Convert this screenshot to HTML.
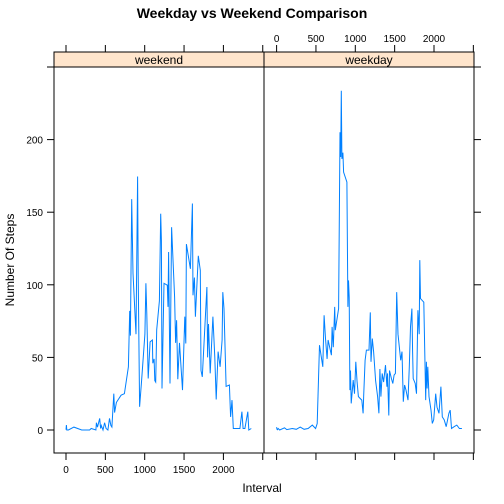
<!DOCTYPE html>
<html><head><meta charset="utf-8"><style>
body{margin:0;background:#fff;}
svg{display:block;font-family:"Liberation Sans",sans-serif;}
</style></head><body>
<svg id="chart" width="504" height="504" viewBox="0 0 504 504">
<text x="252" y="18" text-anchor="middle" font-size="14" font-weight="bold">Weekday vs Weekend Comparison</text>
<text x="262" y="492" text-anchor="middle" font-size="12">Interval</text>
<text transform="translate(14,260) rotate(-90)" text-anchor="middle" font-size="12">Number Of Steps</text>
<g id="g"></g>
</svg>
<script>
const panels = ["weekend","weekday"];
const weekendX = [0,5,10,25,30,100,200,300,320,380,386,400,428,440,449,470,490,510,532,553,570,583,608,617,640,700,742,793,809,818,835,851,889,910,918,935,960,1002,1015,1027,1044,1069,1098,1103,1120,1128,1140,1153,1187,1203,1212,1220,1245,1287,1296,1304,1321,1342,1380,1392,1405,1421,1442,1480,1510,1522,1530,1581,1606,1614,1631,1644,1681,1706,1715,1732,1790,1799,1811,1832,1866,1891,1908,1933,1958,1983,1992,2008,2025,2034,2076,2092,2109,2126,2210,2235,2250,2273,2310,2323,2355];
const weekendY = [0.2,3.4,0,0,0,2,0,0,1,0,5,2,8,1,3,0,5,1,0,8,3,2,25,12,19,24,25,43.5,82,65,159,108,66,174.6,106.5,16,34,66,101,80,35.5,60.7,62,46,49,34,33,69,89,149,130.6,28.6,101,99.7,84.8,122.6,32,139.7,91.6,60,75.6,35,60,27.5,78,59.6,128,111,156,92.8,105,78,120,110,41,36.6,98.5,50,73,39,78,50,21,54,43.5,62,95,83.6,48,30,31,9,20.6,1,1,12.6,1,1,12.6,0,1];
const weekdayX = [0,5,10,20,40,100,130,200,250,300,350,400,453,495,516,545,587,604,621,642,654,696,705,721,738,746,788,805,814,822,830,843,851,893,906,914,923,931,939,948,973,990,1006,1023,1040,1082,1099,1107,1124,1141,1174,1191,1199,1216,1233,1258,1283,1300,1312,1325,1342,1359,1384,1401,1409,1426,1434,1459,1476,1493,1510,1526,1543,1577,1594,1610,1627,1644,1669,1686,1702,1719,1728,1736,1761,1778,1795,1812,1820,1828,1870,1895,1904,1912,1921,1937,1962,1979,1996,2021,2038,2063,2088,2105,2130,2155,2189,2206,2222,2256,2290,2323,2355];
const weekdayY = [2,0.5,0.2,1,0,1.5,0.3,1,0.5,2,0.5,1,3.4,1,4.5,58.4,43.5,79,63,49,62,51.5,71,57,84.8,68.7,83.6,205,188,233.7,186.7,191,177.6,170.7,84.8,103,91.6,27.5,41,18.3,34.4,25,47,33,23,20.6,11.5,24,48,55,55,81,47,63,54,34,23,11.5,42,23,39,33,44.7,29.8,39,10,41,35.5,32,37.8,39,95,66,48,54,19.5,31,27.5,20.6,43.5,71,83.6,54,35.5,32,25,82.5,66,117,90.5,88,20.6,47,28.6,43.5,23,13.7,4.5,7,25,15.8,11.5,29.8,9,7,2.3,11.5,13.7,1,2.3,3.4,1,1];
const xTicks = [0,500,1000,1500,2000];
const yTicks = [0,50,100,150,200];
const extraYTick = 250;

const NS="http://www.w3.org/2000/svg";
const g=document.getElementById('g');
const L=54, T=52, B=453, PW=210, stripH=15;
function xs(v,p){return 66+p*210.6+v*0.0787;}
function ys(v){return 430-v*1.452;}
function mk(tag,attrs,parent){const e=document.createElementNS(NS,tag);for(const k in attrs)e.setAttribute(k,attrs[k]);(parent||g).appendChild(e);return e;}

const datasets=[[weekendX,weekendY],[weekdayX,weekdayY]];
panels.forEach((name,p)=>{
  const x0=L+p*PW;
  const strip=mk('rect',{x:x0,y:T,width:PW,height:stripH,fill:'#ffe5cc',stroke:'#000','stroke-width':1});
  
  
  const st=mk('text',{x:x0+PW/2,y:T+12,'text-anchor':'middle','font-size':12});
  st.textContent=name;
  
  
  const [X,Y]=datasets[p];
  let d='';
  X.forEach((v,i)=>{d+=(i?'L':'M')+xs(v,p).toFixed(1)+','+ys(Y[i]).toFixed(1);});
  const line=mk('path',{d:d,fill:'none',stroke:'#0080ff','stroke-width':1});
  
  
  const frame=mk('rect',{x:x0,y:T,width:PW,height:B-T,fill:'none',stroke:'#000','stroke-width':1});
  
  
  xTicks.concat([2500]).forEach(v=>{
    const x=xs(v,p);
    if(p===0){
      const tk=mk('line',{x1:x,x2:x,y1:B,y2:B+7,stroke:'#000'});
      
      
      const tk2=mk('line',{x1:x,x2:x,y1:T,y2:T-7,stroke:'#000'});
      
      
      if(v<=2000){const t=mk('text',{x:x,y:B+20,'text-anchor':'middle','font-size':10});t.textContent=v;
      
      }
    } else {
      const tk=mk('line',{x1:x,x2:x,y1:T,y2:T-7,stroke:'#000'});
      
      
      const tk2=mk('line',{x1:x,x2:x,y1:B,y2:B+7,stroke:'#000'});
      
      
      if(v<=2000){const t=mk('text',{x:x,y:T-10,'text-anchor':'middle','font-size':10});t.textContent=v;
      
      }
    }
  });
});
yTicks.concat([extraYTick]).forEach(v=>{
  const y=ys(v);
  const tk=mk('line',{x1:L-7,x2:L,y1:y,y2:y,stroke:'#000'});
  
  
  const tk2=mk('line',{x1:L+2*PW,x2:L+2*PW+7,y1:y,y2:y,stroke:'#000'});
  
  
  if(v!==extraYTick){const t=mk('text',{x:L-11,y:y+4,'text-anchor':'end','font-size':10});t.textContent=v;
  
  }
});
</script>
</body></html>
